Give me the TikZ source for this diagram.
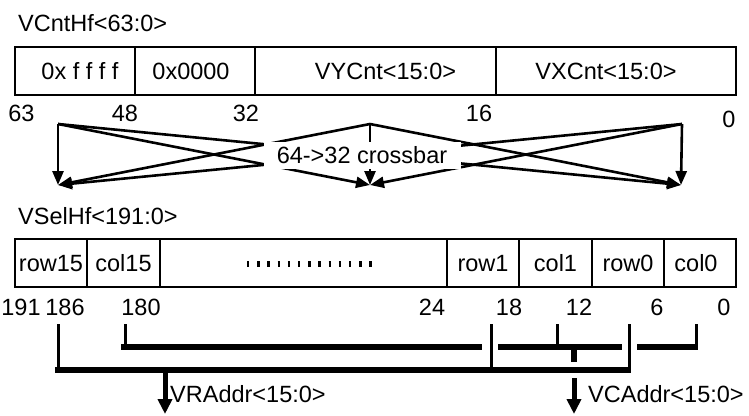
\documentclass[tikz,border=0pt]{standalone}
\usepackage{fontspec}
\setmainfont{Liberation Sans}
\usepackage{tikz}
\usetikzlibrary{arrows.meta}

\begin{document}
\begin{tikzpicture}[
  x=1pt, y=-1pt,
  every node/.style={font=\fontsize{23.5}{28}\selectfont, inner sep=0pt,
                     text height=17pt, text depth=0pt},
  cell/.style={draw, line width=2.7pt, minimum height=48pt},
  xarr/.style={-{Triangle[length=14pt,width=11pt]}, line width=2.6pt},
  tap/.style={line width=3pt},
  bus/.style={line width=6pt},
  addr/.style={-{Triangle[length=15pt,width=14pt]}, line width=5pt},
  dots/.style={line width=6pt, dash pattern=on 2.4pt off 7.8pt},
]
  \useasboundingbox (0,0) rectangle (749,415);

  % Source register VCntHf<63:0>
  \node[anchor=west] (cnttitle) at (18,23) {VCntHf<63:0>};
  \node[cell, minimum width=120pt, label={[xshift=5pt]center:0x f f f f}] (ffff) at (75,71) {};
  \node[cell, minimum width=120pt, label={[xshift=-4pt]center:0x0000}] (zero) at (195,71) {};
  \node[cell, minimum width=241pt, label={[xshift=10pt]center:VYCnt<15:0>}] (ycnt) at (375.5,71) {};
  \node[cell, minimum width=240pt, label={[xshift=-10pt]center:VXCnt<15:0>}] (xcnt) at (616,71) {};

  \node (b63) at (21.5,112.5) {63};
  \node (b48) at (125,112.5) {48};
  \node (b32) at (246,112.5) {32};
  \node (b16) at (479,112.5) {16};
  \node (b0)  at (729,118.5) {0};

  % 64->32 crossbar: every source goes to every target
  \coordinate (s0) at (58,124);
  \coordinate (s1) at (370,124);
  \coordinate (s2) at (682,124);
  \coordinate (t0) at (58,185);
  \coordinate (t1) at (370,185);
  \coordinate (t2) at (681,185);
  \foreach \s in {s0,s1,s2}
    \foreach \t in {t0,t1,t2}
      \draw[xarr] (\s) -- (\t);
  \node[fill=white, minimum width=197pt, minimum height=27pt] (xbar) at (362,155) {64->32 crossbar};

  % Select register VSelHf<191:0>
  \node[anchor=west] (seltitle) at (18,215.5) {VSelHf<191:0>};
  \node[cell, minimum width=72pt] (row15) at (51,263) {row15};
  \node[cell, minimum width=73pt] (col15) at (123.5,263) {col15};
  \node[cell, minimum width=287pt] (mid) at (303.5,263) {};
  \node[cell, minimum width=72pt] (row1) at (483,263) {row1};
  \node[cell, minimum width=73pt] (col1) at (555.5,263) {col1};
  \node[cell, minimum width=72pt] (row0) at (628,263) {row0};
  \node[cell, minimum width=72pt, label={[xshift=-4pt]center:col0}] (col0) at (700,263) {};
  \draw[dots] (247,263.5) -- (372,263.5);

  \node (b191) at (21,306.5) {191};
  \node (b186) at (65,306.5) {186};
  \node (b180) at (141,306.5) {180};
  \node (b24)  at (432,306.5) {24};
  \node (b18)  at (509,306.5) {18};
  \node (b12)  at (579,306.5) {12};
  \node (b6)   at (657,306.5) {6};
  \node (b00)  at (724,306.5) {0};

  % Row and column taps
  \coordinate (r15) at (58,324);
  \coordinate (r1)  at (491,324);
  \coordinate (r0)  at (629,324);
  \coordinate (c15) at (125,324);
  \coordinate (c1)  at (557,324);
  \coordinate (c0)  at (696,324);
  \coordinate (rbus) at (0,370);
  \coordinate (cbus) at (0,347);
  \foreach \r in {r15,r1,r0}
    \draw[tap] (\r) -- ([yshift=-1.5pt]\r |- rbus);
  \foreach \c in {c15,c1,c0}
    \draw[tap] (\c) -- ([yshift=-1.5pt]\c |- cbus);

  % Row bus
  \draw[bus] (55,370) -- (630.5,370);
  % Column bus, broken where the row taps cross
  \draw[bus] (121,347) -- (482,347);
  \draw[bus] (498,347) -- (622,347);
  \draw[bus] (637,347) -- (697.5,347);
  \draw[bus] (574,347) -- (574,362);

  % Address outputs
  \coordinate (ra) at (165,370);
  \coordinate (raend) at (165,414);
  \coordinate (ca) at (574,378);
  \coordinate (caend) at (574,414);
  \draw[addr] (ra) -- (raend);
  \draw[addr] (ca) -- (caend);
  \node[anchor=west] (vra) at (170,394) {VRAddr<15:0>};
  \node[anchor=west] (vca) at (588,394) {VCAddr<15:0>};
\end{tikzpicture}
\end{document}
